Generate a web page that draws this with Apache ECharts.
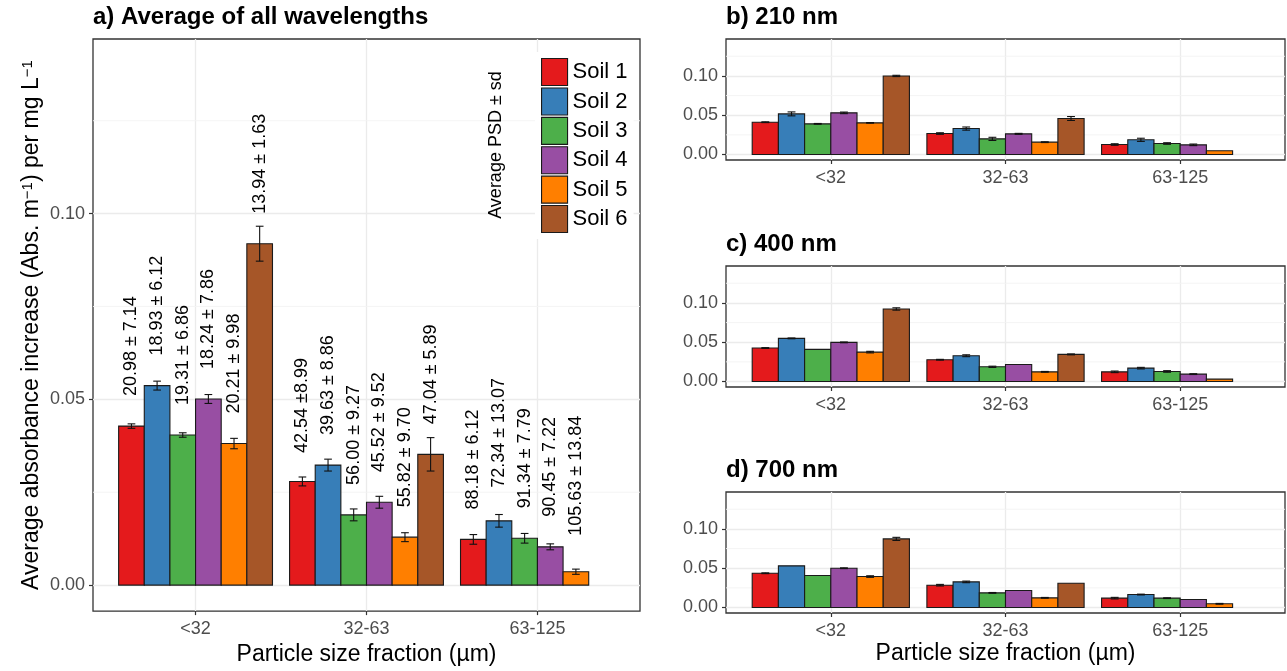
<!DOCTYPE html>
<html><head><meta charset="utf-8">
<script src="https://cdn.jsdelivr.net/npm/echarts@6/dist/echarts.min.js"></script>
<style>html,body{margin:0;padding:0;background:#fff}#c{width:1287px;height:671px}</style>
</head><body><div id="c"></div>
<script>
// ---------- DATA ----------
const categories = ['<32', '32-63', '63-125'];
const soils = ['Soil 1', 'Soil 2', 'Soil 3', 'Soil 4', 'Soil 5', 'Soil 6'];
const soilColors = ['#E41A1C', '#377EB8', '#4DAF4A', '#984EA3', '#FF7F00', '#A65628'];

// rows = size fractions, columns = soils 1..6 (null = no bar)
const avgMean = [
  [0.0428, 0.0537, 0.0404, 0.0501, 0.0381, 0.0919],
  [0.0279, 0.0323, 0.0189, 0.0223, 0.0129, 0.0352],
  [0.0123, 0.0173, 0.0126, 0.0103, 0.0036, null]
];
const avgSd = [
  [0.0006, 0.0012, 0.0006, 0.0012, 0.0014, 0.0047],
  [0.0012, 0.0016, 0.0016, 0.0016, 0.0012, 0.0045],
  [0.0013, 0.0017, 0.0013, 0.0008, 0.0007, null]
];
const psdLabels = [
  ['20.98 ± 7.14', '18.93 ± 6.12', '19.31 ± 6.86', '18.24 ± 7.86', '20.21 ± 9.98', '13.94 ± 1.63'],
  ['42.54 ±8.99', '39.63 ± 8.86', '56.00 ± 9.27', '45.52 ± 9.52', '55.82 ± 9.70', '47.04 ± 5.89'],
  ['88.18 ± 6.12', '72.34 ± 13.07', '91.34 ± 7.79', '90.45 ± 7.22', '105.63 ± 13.84', null]
];
const nm210Mean = [
  [0.0411, 0.0517, 0.0390, 0.0530, 0.0403, 0.1000],
  [0.0267, 0.0330, 0.0199, 0.0263, 0.0157, 0.0458],
  [0.0127, 0.0187, 0.0140, 0.0123, 0.0047, null]
];
const nm210Sd = [
  [0.0005, 0.0025, 0.0005, 0.0010, 0.0004, 0.0008],
  [0.0010, 0.0020, 0.0020, 0.0006, 0.0005, 0.0025],
  [0.0010, 0.0020, 0.0010, 0.0010, 0.0000, null]
];
const nm400Mean = [
  [0.0426, 0.0549, 0.0409, 0.0498, 0.0374, 0.0923],
  [0.0277, 0.0328, 0.0187, 0.0217, 0.0123, 0.0345],
  [0.0123, 0.0170, 0.0128, 0.0094, 0.0030, null]
];
const nm400Sd = [
  [0.0005, 0.0005, 0.0000, 0.0005, 0.0010, 0.0015],
  [0.0005, 0.0012, 0.0008, 0.0000, 0.0005, 0.0006],
  [0.0010, 0.0010, 0.0010, 0.0005, 0.0000, null]
];
const nm700Mean = [
  [0.0436, 0.0530, 0.0407, 0.0500, 0.0394, 0.0873],
  [0.0284, 0.0326, 0.0186, 0.0216, 0.0123, 0.0309],
  [0.0119, 0.0165, 0.0119, 0.0102, 0.0047, null]
];
const nm700Sd = [
  [0.0005, 0.0000, 0.0000, 0.0005, 0.0010, 0.0020],
  [0.0010, 0.0010, 0.0005, 0.0000, 0.0005, 0.0000],
  [0.0010, 0.0005, 0.0005, 0.0000, 0.0005, null]
];
const yMajorTicks = [0, 0.05, 0.10];
const yMinorTicks = [0.025, 0.075, 0.125];
const panelTitles = ['a) Average of all wavelengths', 'b) 210 nm', 'c) 400 nm', 'd) 700 nm'];

// ---------- LAYOUT / STYLE ----------
const FONT = '"Liberation Sans", Arial, sans-serif';
const Y_MIN = -0.007, Y_MAX = 0.147;
const X_MIN = 0.4, X_MAX = 3.6;
const BW = 0.15;     // bar width in category units (0.9 dodge / 6)
const CAP = 0.045;   // error bar cap width
const panels = [
  { mean: avgMean, sd: avgSd, labels: psdLabels, grid: { left: 93, top: 39, width: 547, height: 574 }, xName: 'Particle size fraction (µm)', yName: true, titleTop: 5 },
  { mean: nm210Mean, sd: nm210Sd, labels: null, grid: { left: 726, top: 39, width: 559, height: 121 }, xName: '', titleTop: 5 },
  { mean: nm400Mean, sd: nm400Sd, labels: null, grid: { left: 726, top: 266, width: 559, height: 121 }, xName: '', titleTop: 232 },
  { mean: nm700Mean, sd: nm700Sd, labels: null, grid: { left: 726, top: 492, width: 559, height: 121 }, xName: 'Particle size fraction (µm)', titleTop: 458 }
];

const measureCtx = document.createElement('canvas').getContext('2d');
const LABEL_FONT = '18px ' + FONT;
measureCtx.font = LABEL_FONT;

const grids = [], xAxes = [], yAxes = [], series = [], titles = [];
panels.forEach((p, pi) => {
  grids.push(Object.assign({ show: true, borderColor: '#333333', borderWidth: 1.3, backgroundColor: '#fff', containLabel: false }, p.grid));
  titles.push({ text: panelTitles[pi], left: p.grid.left, top: p.titleTop, padding: 0,
    textStyle: { fontSize: 24, fontWeight: 'bold', fontFamily: FONT, color: '#000' } });
  xAxes.push({
    type: 'value', gridIndex: pi, min: X_MIN, max: X_MAX,
    axisLine: { show: false, onZero: false },
    axisTick: { show: true, customValues: [1, 2, 3], length: 4, lineStyle: { color: '#333', width: 1.2 } },
    axisLabel: { customValues: [1, 2, 3], formatter: v => categories[Math.round(v) - 1], color: '#4d4d4d', fontSize: 18, fontFamily: FONT, margin: 9 },
    splitLine: { show: true, lineStyle: { color: '#ebebeb', width: 1.3 } },
    name: p.xName, nameLocation: 'middle', nameGap: 29,
    nameTextStyle: { fontSize: 23, color: '#000', fontFamily: FONT }
  });
  yAxes.push({
    type: 'value', gridIndex: pi, min: Y_MIN, max: Y_MAX,
    axisLine: { show: false, onZero: false },
    axisTick: { show: true, customValues: yMajorTicks, length: 4, lineStyle: { color: '#333', width: 1.2 } },
    axisLabel: { customValues: yMajorTicks, formatter: v => v.toFixed(2), color: '#4d4d4d', fontSize: 18, fontFamily: FONT, margin: 8 },
    splitLine: { show: true, lineStyle: { color: '#ebebeb', width: 1.3 } },
    name: p.yName ? 'Average absorbance increase (Abs. m{sup|−1}) per mg L{sup|−1}' : '',
    nameLocation: 'middle', nameGap: 50,
    nameTextStyle: { fontSize: 23, color: '#000', fontFamily: FONT,
      rich: { sup: { fontSize: 15, fontFamily: FONT, color: '#000', verticalAlign: 'top' } } }
  });
  // minor horizontal gridlines
  series.push({
    type: 'custom', xAxisIndex: pi, yAxisIndex: pi, silent: true, z: 1, animation: false,
    data: yMinorTicks.map(v => [v]),
    renderItem: (params, api) => {
      const a = api.coord([X_MIN, api.value(0)]), b = api.coord([X_MAX, api.value(0)]);
      return { type: 'line', shape: { x1: a[0], y1: a[1], x2: b[0], y2: b[1] }, style: { stroke: '#f3f3f3', lineWidth: 0.9 } };
    }
  });
  soils.forEach((name, s) => {
    const data = [], labs = [];
    categories.forEach((c, ci) => {
      const m = p.mean[ci][s];
      if (m == null) return;
      data.push([ci + 1, m, p.sd[ci][s]]);
      labs.push(p.labels ? p.labels[ci][s] : null);
    });
    series.push({
      type: 'custom', name, xAxisIndex: pi, yAxisIndex: pi, z: 2, animation: false,
      itemStyle: { color: soilColors[s] },
      data,
      renderItem: (params, api) => {
        const x = api.value(0), v = api.value(1), sd = api.value(2);
        const c = x + (s - 2.5) * BW;
        const tl = api.coord([c - BW / 2, v]);
        const br = api.coord([c + BW / 2, 0]);
        const children = [{ type: 'rect', shape: { x: tl[0], y: tl[1], width: br[0] - tl[0], height: br[1] - tl[1] },
          style: { fill: soilColors[s], stroke: '#1a1a1a', lineWidth: 1.1 } }];
        if (sd > 0) {
          const top = api.coord([c, v + sd]), bot = api.coord([c, v - sd]);
          const cl = api.coord([c - CAP / 2, v])[0], cr = api.coord([c + CAP / 2, v])[0];
          const st = { stroke: '#111', lineWidth: 1.1 };
          children.push({ type: 'line', shape: { x1: top[0], y1: top[1], x2: bot[0], y2: bot[1] }, style: st });
          children.push({ type: 'line', shape: { x1: cl, y1: top[1], x2: cr, y2: top[1] }, style: st });
          children.push({ type: 'line', shape: { x1: cl, y1: bot[1], x2: cr, y2: bot[1] }, style: st });
        }
        const t = labs[params.dataIndex];
        if (t) {
          const w = measureCtx.measureText(t).width;
          const mid = api.coord([c, v]);
          children.push({ type: 'text', x: mid[0], y: mid[1] - 0.3 * w, rotation: Math.PI / 2,
            style: { text: t, x: 0, y: 0, fill: '#000', font: LABEL_FONT, align: 'left', verticalAlign: 'middle' } });
        }
        return { type: 'group', children };
      }
    });
  });
});

const chart = echarts.init(document.getElementById('c'), null, { renderer: 'canvas' });
chart.setOption({
  animation: false,
  textStyle: { fontFamily: FONT },
  title: titles,
  grid: grids,
  xAxis: xAxes,
  yAxis: yAxes,
  legend: {
    data: soils, orient: 'vertical', left: 535, top: 52, padding: 6,
    backgroundColor: '#fff', icon: 'rect', itemWidth: 26, itemHeight: 27, itemGap: 1.3,
    itemStyle: { borderColor: '#1a1a1a', borderWidth: 1.1 },
    textStyle: { fontSize: 22, color: '#000', fontFamily: FONT },
    selectedMode: false
  },
  graphic: [{
    type: 'text', x: 496, y: 145, rotation: Math.PI / 2, z: 100,
    style: { text: 'Average PSD ± sd', fill: '#000', font: '18px ' + FONT, align: 'center', verticalAlign: 'middle' }
  }],
  series
});
</script></body></html>
